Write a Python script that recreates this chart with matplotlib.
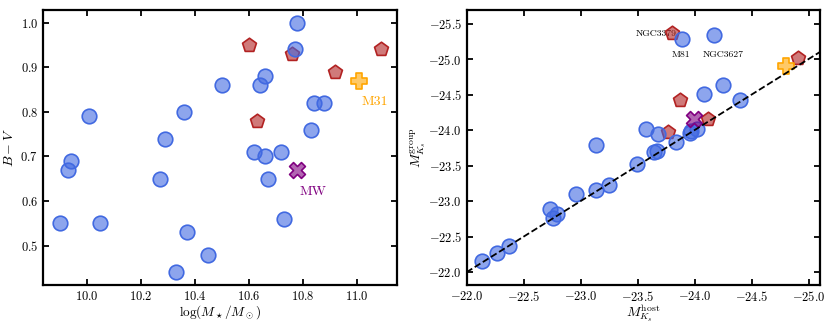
import numpy as np
import matplotlib
matplotlib.use("Agg")
from matplotlib import pyplot as plt

# left panel: stellar mass vs B-V colour
blue_mass = [10.78, 10.77, 10.66, 10.64, 10.50, 10.84, 10.88, 10.83, 10.36, 10.01, 10.29, 10.62,
             10.66, 10.72, 9.94, 9.93, 10.27, 10.67, 9.90, 10.05, 10.73, 10.37, 10.45, 10.33]
blue_bv = [1.00, 0.94, 0.88, 0.86, 0.86, 0.82, 0.82, 0.76, 0.80, 0.79, 0.74, 0.71,
           0.70, 0.71, 0.69, 0.67, 0.65, 0.65, 0.55, 0.55, 0.56, 0.53, 0.48, 0.44]
red_mass = [10.60, 10.76, 10.92, 11.09, 10.63]
red_bv = [0.95, 0.93, 0.89, 0.94, 0.78]
m31_mass, m31_bv = 11.01, 0.87
mw_mass, mw_bv = 10.78, 0.67

# right panel: host K_s magnitude vs group K_s magnitude
blue_mk_host = [-23.89, -24.17, -24.25, -24.08, -24.40, -23.57, -23.68, -23.84, -23.955, -24.02,
                -23.97, -23.13, -23.64, -23.67, -23.49, -23.25, -23.13, -22.96, -22.73, -22.76,
                -22.79, -22.37, -22.27, -22.13]
blue_mk_group = [-25.28, -25.34, -24.63, -24.51, -24.42, -24.015, -23.95, -23.83, -23.96, -24.015,
                 -23.99, -23.79, -23.69, -23.70, -23.52, -23.22, -23.16, -23.10, -22.895, -22.755,
                 -22.815, -22.37, -22.27, -22.16]
red_mk_host = [-23.80, -24.91, -23.87, -24.12, -23.77]
red_mk_group = [-25.37, -25.02, -24.42, -24.15, -23.97]
m31_mk_host, m31_mk_group = -24.80, -24.90
mw_mk_host, mw_mk_group = -23.99, -24.15
one_to_one = [-21.5, -25.5]

plt.rcParams['mathtext.fontset'] = 'cm'
plt.rcParams['font.family'] = 'serif'
plt.rcParams['font.serif'] = ['cmr10']
plt.rcParams['axes.formatter.use_mathtext'] = True
plt.rcParams['axes.unicode_minus'] = True

blue_face = (65/255, 105/255, 225/255, 0.6)
red_face = (178/255, 34/255, 34/255, 0.6)
orange_face = (1.0, 165/255, 0.0, 0.6)
purple_face = (128/255, 0.0, 128/255, 0.6)


def style(ax):
    ax.tick_params(direction='in', top=True, right=True, length=4, width=1.3, labelsize=9, pad=3.5)
    for s in ax.spines.values():
        s.set_linewidth(1.6)


def draw_points(ax, bx, by, rx, ry, m31, mw):
    ax.scatter(rx, ry, s=110, marker='p', facecolor=red_face, edgecolor='firebrick', lw=1.2, zorder=2)
    ax.scatter(bx, by, s=110, marker='o', facecolor=blue_face, edgecolor='royalblue', lw=1.2, zorder=3)
    ax.scatter([m31[0]], [m31[1]], s=130, marker='P', facecolor=orange_face, edgecolor='orange',
               lw=1.2, zorder=4)
    ax.scatter([mw[0]], [mw[1]], s=130, marker='X', facecolor=purple_face, edgecolor='purple',
               lw=1.2, zorder=4)


fig = plt.figure(figsize=(8.3, 3.23), dpi=100)

ax1 = fig.add_axes([0.0518, 0.1180, 0.4265, 0.8510])
draw_points(ax1, blue_mass, blue_bv, red_mass, red_bv, (m31_mass, m31_bv), (mw_mass, mw_bv))
ax1.text(11.019, 0.821, 'M31', color='orange', fontsize=10, ha='left', va='center')
ax1.text(10.79, 0.621, 'MW', color='purple', fontsize=10, ha='left', va='center')
ax1.set_xlim(9.838, 11.149)
ax1.set_ylim(0.412, 1.028)
ax1.set_xticks([10.0, 10.2, 10.4, 10.6, 10.8, 11.0])
ax1.set_yticks([0.5, 0.6, 0.7, 0.8, 0.9, 1.0])
ax1.set_xlabel(r'$\log(M_\star/M_\odot)$', fontsize=9.5, labelpad=0)
ax1.set_ylabel(r'$B-V$', fontsize=10, labelpad=3)
style(ax1)

ax2 = fig.add_axes([0.5623, 0.1180, 0.4257, 0.8510])
ax2.plot(one_to_one, one_to_one, 'k--', lw=1.3, zorder=5)
draw_points(ax2, blue_mk_host, blue_mk_group, red_mk_host, red_mk_group,
            (m31_mk_host, m31_mk_group), (mw_mk_host, mw_mk_group))
ax2.text(-23.84, -25.36, 'NGC3379', fontsize=7, ha='right', va='center', zorder=1)
ax2.text(-23.876, -25.066, 'M81', fontsize=7, ha='center', va='center')
ax2.text(-24.25, -25.066, 'NGC3627', fontsize=7, ha='center', va='center')
ax2.set_xlim(-22.0, -25.1)
ax2.set_ylim(-21.82, -25.69)
ax2.set_xticks(np.arange(-22.0, -25.01, -0.5))
ax2.set_yticks(np.arange(-22.0, -25.51, -0.5))
ax2.set_xlabel(r'$M_{K_s}^{\rm host}$', fontsize=10, labelpad=-1)
ax2.set_ylabel(r'$M_{K_s}^{\rm group}$', fontsize=10, labelpad=0)
style(ax2)

fig.savefig('out.png', dpi=100)
